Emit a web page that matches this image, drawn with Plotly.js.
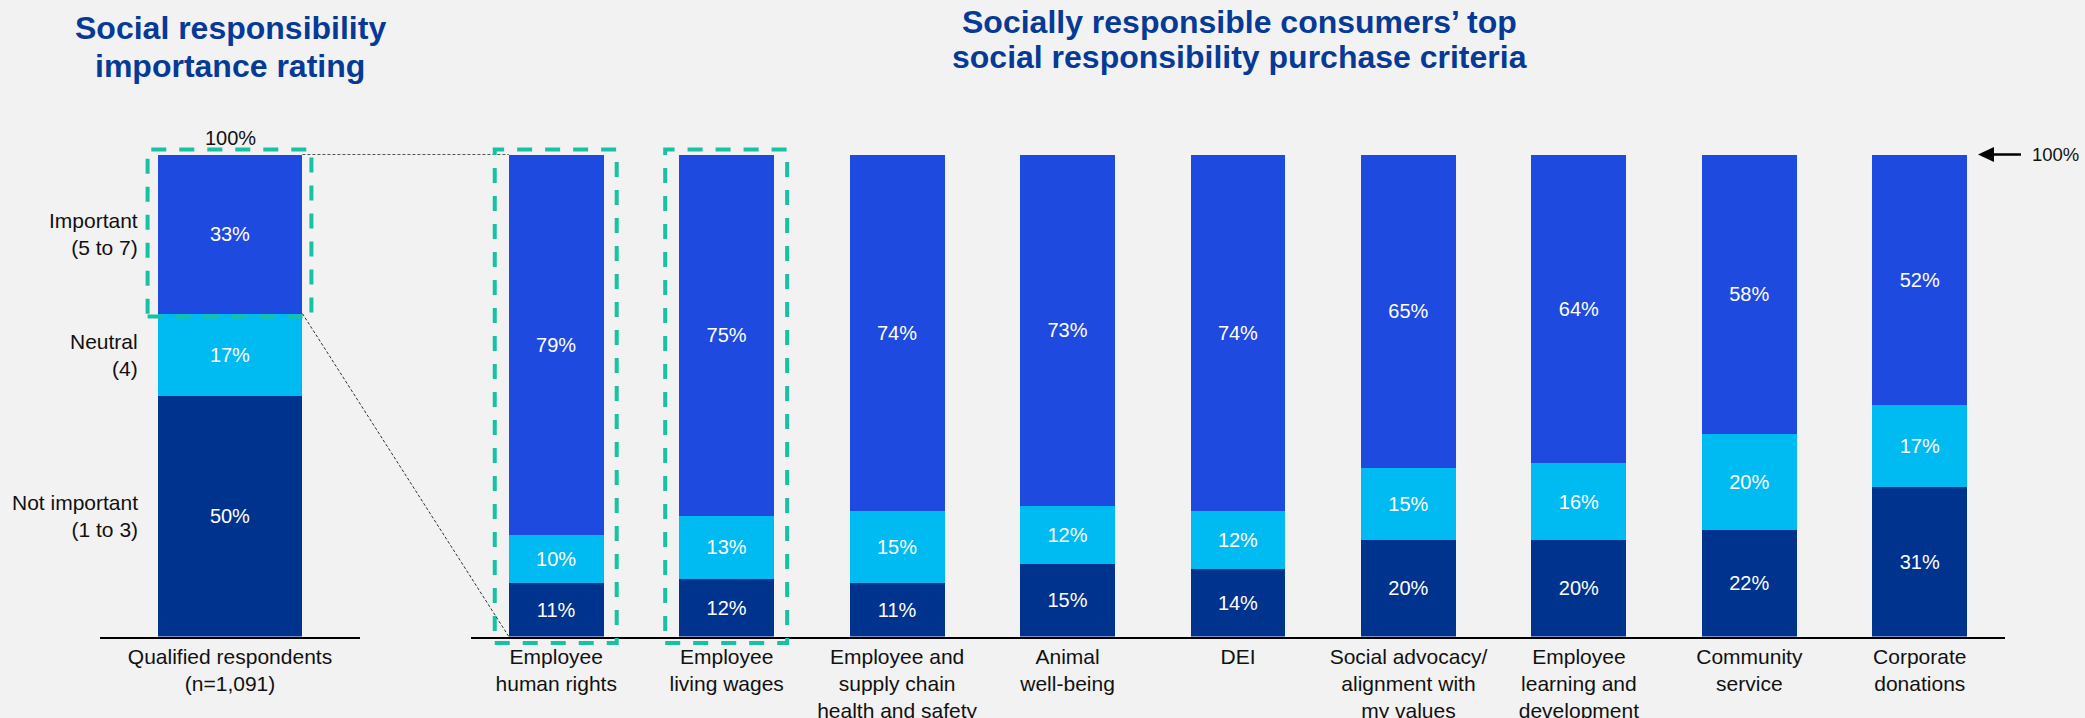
<!DOCTYPE html>
<html>
<head>
<meta charset="utf-8">
<script src="https://cdn.plot.ly/plotly-3.0.1.min.js"></script>
<style>
html,body{margin:0;padding:0;background:#F2F2F2;}
#chart{width:2085px;height:718px;}
</style>
</head>
<body>
<div id="chart"></div>
<script>
// ---- data ----
const leftCategory = ['Qualified respondents<br>(n=1,091)'];
const leftNotImportant = [50];
const leftNeutral = [17];
const leftImportant = [33];
const leftSegmentLabels = ['Not important<br>(1 to 3)', 'Neutral<br>(4)', 'Important<br>(5 to 7)'];

const criteria = [
  'Employee<br>human rights',
  'Employee<br>living wages',
  'Employee and<br>supply chain<br>health and safety',
  'Animal<br>well-being',
  'DEI',
  'Social advocacy/<br>alignment with<br>my values',
  'Employee<br>learning and<br>development',
  'Community<br>service',
  'Corporate<br>donations'
];
const notImportant = [11, 12, 11, 15, 14, 20, 20, 22, 31];
const neutral      = [10, 13, 15, 12, 12, 15, 16, 20, 17];
const important    = [79, 75, 74, 73, 74, 65, 64, 58, 52];

const leftTitle = ['Social responsibility', 'importance rating'];
const rightTitle = ['Socially responsible consumers\u2019 top', 'social responsibility purchase criteria'];
const topLabel = '100%';

// ---- styling ----
const W = 2085, H = 718;
const FONT = 'Liberation Sans, Arial, sans-serif';
const C_IMP = '#1F4AE0', C_NEU = '#00BAF2', C_NOT = '#00338D';
const TITLE_C = '#063A96';
const TEAL = '#17C1A4';

const xd1 = [100 / W, 360 / W];
const xd2 = [471 / W, 2005 / W];
const yPix = [636.5, 154.5];           // pixel of y=0 and y=100
const yd = [1 - yPix[0] / H, 1 - yPix[1] / H];
const BARGAP = 0.443;
const BW = 1 - BARGAP;

// pixel helpers (margins are 0, so paper == page pixels)
const px = v => v / W;
const py = v => 1 - v / H;
const X1 = v => 100 + (v + 0.5) * 260;
const X2 = v => 471 + (v + 0.5) * (2005 - 471) / criteria.length;
const Y = v => yPix[0] - v * (yPix[0] - yPix[1]) / 100;

function barTrace(x, y, color, xa, ya) {
  return {
    type: 'bar', x: x, y: y, xaxis: xa, yaxis: ya,
    marker: { color: color, line: { width: 0 } },
    texttemplate: '%{y}%', textposition: 'inside', insidetextanchor: 'middle',
    textangle: 0, constraintext: 'none',
    textfont: { family: FONT, size: 20, color: '#FFFFFF' },
    hoverinfo: 'skip', showlegend: false
  };
}

const data = [
  barTrace(leftCategory, leftNotImportant, C_NOT, 'x', 'y'),
  barTrace(leftCategory, leftNeutral, C_NEU, 'x', 'y'),
  barTrace(leftCategory, leftImportant, C_IMP, 'x', 'y'),
  barTrace(criteria, notImportant, C_NOT, 'x2', 'y2'),
  barTrace(criteria, neutral, C_NEU, 'x2', 'y2'),
  barTrace(criteria, important, C_IMP, 'x2', 'y2')
];

const xaxisBase = {
  type: 'category', showline: true, linecolor: '#000', linewidth: 2,
  ticks: '', showgrid: false, zeroline: false, fixedrange: true,
  tickfont: { family: FONT, size: 21, color: '#111' }
};
const yaxisBase = { range: [0, 100], visible: false, showgrid: false, zeroline: false, fixedrange: true };

// ---- annotations ----
const annotations = [];
function titleLine(text, xc, yc) {
  annotations.push({ xref: 'paper', yref: 'paper', x: px(xc), y: py(yc), xanchor: 'center', yanchor: 'middle',
    text: '<b>' + text + '</b>', showarrow: false, font: { family: FONT, size: 32, color: TITLE_C } });
}
titleLine(leftTitle[0], 230, 27.6);
titleLine(leftTitle[1], 230, 65.7);
titleLine(rightTitle[0], 1239, 21.7);
titleLine(rightTitle[1], 1239, 56.5);

// 100% over left bar
annotations.push({ xref: 'paper', yref: 'paper', x: px(X1(0)), y: py(Y(100) - 17), xanchor: 'center', yanchor: 'middle',
  text: topLabel, showarrow: false, font: { family: FONT, size: 20, color: '#111' } });

// segment labels left of the left bar
const leftVals = [leftNotImportant[0], leftNeutral[0], leftImportant[0]];
let cum = 0;
leftVals.forEach((v, i) => {
  const mid = cum + v / 2; cum += v;
  annotations.push({ xref: 'paper', yref: 'y', x: px(140), y: mid, xanchor: 'right', yanchor: 'middle', align: 'right',
    text: leftSegmentLabels[i], showarrow: false, font: { family: FONT, size: 21, color: '#111' } });
});

// 100% arrow label at right
annotations.push({ xref: 'paper', yref: 'y2', x: px(2030), y: 100, xanchor: 'left', yanchor: 'middle',
  text: topLabel, showarrow: false, font: { family: FONT, size: 18.5, color: '#111' } });

// ---- shapes ----
const shapes = [];
const dashBox = (x0, x1, y0, y1) => shapes.push({ type: 'rect', xref: 'paper', yref: 'paper',
  x0: px(x0), x1: px(x1), y0: py(y1), y1: py(y0),
  line: { color: TEAL, width: 4, dash: '15px,13px' }, fillcolor: 'rgba(0,0,0,0)', layer: 'above' });

// box around left "important" segment
const leftBarL = X1(-BW / 2), leftBarR = X1(BW / 2);
const impBottom = 100 - leftImportant[0];
dashBox(leftBarL - 10, leftBarR + 9, Y(100) - 5, Y(impBottom) + 3);
// boxes around first two criteria bars
[0, 1].forEach(i => {
  const bw = BW * (2005 - 471) / criteria.length;
  dashBox(X2(i) - bw / 2 - 14, X2(i) + bw / 2 + 13, Y(100) - 5, Y(0) + 6.5);
});

// connector lines
const r1L = X2(-BW / 2);
shapes.push({ type: 'line', xref: 'paper', yref: 'paper', x0: px(leftBarR), y0: py(Y(100)), x1: px(r1L), y1: py(Y(100)),
  line: { color: '#555', width: 1, dash: '3px,2px' }, layer: 'below' });
shapes.push({ type: 'line', xref: 'paper', yref: 'paper', x0: px(leftBarR), y0: py(Y(impBottom)), x1: px(r1L), y1: py(Y(0)),
  line: { color: '#333', width: 1, dash: '3px,2px' }, layer: 'above' });

// arrow at right: shaft + head
const ay = Y(100);
shapes.push({ type: 'line', xref: 'paper', yref: 'paper', x0: px(1990), y0: py(ay), x1: px(2021), y1: py(ay),
  line: { color: '#000', width: 2.5 } });
shapes.push({ type: 'path', xref: 'paper', yref: 'paper',
  path: 'M ' + px(1978) + ' ' + py(ay) + ' L ' + px(1994) + ' ' + py(ay - 7.5) + ' L ' + px(1994) + ' ' + py(ay + 7.5) + ' Z',
  fillcolor: '#000', line: { color: '#000', width: 0 } });

const layout = {
  width: W, height: H,
  margin: { l: 0, r: 0, t: 0, b: 0, pad: 0 },
  paper_bgcolor: '#F2F2F2', plot_bgcolor: 'rgba(0,0,0,0)',
  barmode: 'stack', bargap: BARGAP,
  showlegend: false,
  font: { family: FONT, color: '#111' },
  xaxis: Object.assign({}, xaxisBase, { domain: xd1, range: [-0.5, 0.5], anchor: 'y' }),
  yaxis: Object.assign({}, yaxisBase, { domain: yd, anchor: 'x' }),
  xaxis2: Object.assign({}, xaxisBase, { domain: xd2, range: [-0.5, criteria.length - 0.5], anchor: 'y2' }),
  yaxis2: Object.assign({}, yaxisBase, { domain: yd, anchor: 'x2' }),
  annotations: annotations,
  shapes: shapes,
  hovermode: false
};

Plotly.newPlot('chart', data, layout, { displayModeBar: false, staticPlot: true });
</script>
</body>
</html>
